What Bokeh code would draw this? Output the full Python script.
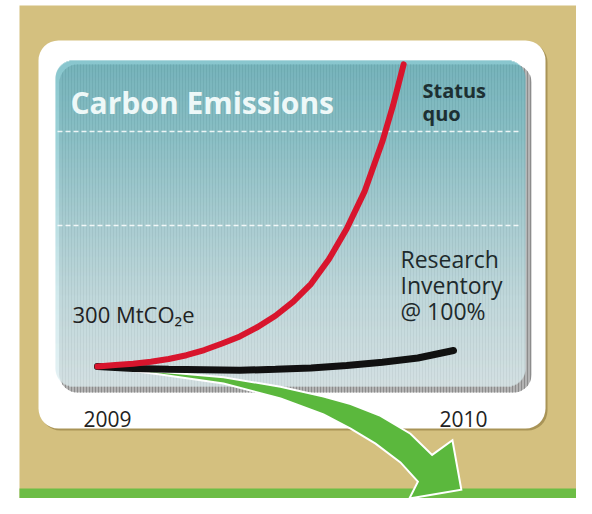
import numpy as np
from bokeh.plotting import figure
from bokeh.models import Range1d, BoxAnnotation, Label
from bokeh.core.properties import value
from bokeh.embed import file_html
from bokeh.resources import INLINE

# ---------------- data ----------------
status_years = [2009.0, 2009.05, 2009.1, 2009.15, 2009.2, 2009.25, 2009.3, 2009.35, 2009.4,
                2009.45, 2009.5, 2009.55, 2009.6, 2009.65, 2009.7, 2009.75, 2009.8, 2009.83, 2009.86]
status_quo = [300, 303, 306, 310, 316, 324, 335, 349, 364,
              384, 408, 438, 476, 528, 593, 672, 778, 855, 943]

research_years = [2009.0, 2009.1, 2009.2, 2009.3, 2009.4, 2009.5, 2009.6, 2009.7, 2009.8, 2009.9, 2010.0]
research_inventory = [300, 296, 294, 293, 292, 294, 297, 302, 309, 318, 334]

# reduction arrow outline (years, MtCO2e)
arrow_upper_years = [2009.0, 2009.177, 2009.354, 2009.514, 2009.635, 2009.711, 2009.795, 2009.879, 2009.94]
arrow_upper_mt = [300, 289, 277, 257, 236, 220, 195, 157, 112]
arrow_head_years = [2009.997, 2010.022, 2009.876]
arrow_head_mt = [143, 38, 19]
arrow_lower_years = [2009.900, 2009.851, 2009.781, 2009.711, 2009.635, 2009.514, 2009.354, 2009.177, 2009.0]
arrow_lower_mt = [55, 96, 136, 168, 198, 232, 264, 283, 300]

tick_years = [2009, 2010]
tick_labels = ["2009", "2010"]
grid_values = [600, 800]

W, H = 576, 498
p = figure(width=W, height=H, output_backend="svg", toolbar_location=None,
           x_range=Range1d(0, W), y_range=Range1d(H, 0),
           x_axis_type=None, y_axis_type=None, min_border=0,
           background_fill_color="white", border_fill_color="white")
p.outline_line_color = None
p.grid.visible = False
p.extra_x_ranges = {"yr": Range1d(2008.72753, 2010.34551)}
p.extra_y_ranges = {"mt": Range1d(19.15, 1078.72)}

def box(l, r, t, b, color, radius=0, **kw):
    ba = BoxAnnotation(left=l, right=r, top=t, bottom=b, fill_color=color, fill_alpha=1,
                       line_color=None, level="underlay", border_radius=radius, **kw)
    p.add_layout(ba)

# tan background & green strip
box(19, 576, 5, 498, "#d4c07f")
box(19, 576, 488, 498, "#6cbd45")
# white card with shadow
box(40, 547, 42, 430, "#a99457", 20)
box(38, 545, 40, 428, "#ffffff", 20)
# panel shadow
box(59, 531, 64, 392, "#b4b4b4", 18, hatch_pattern="vertical_line",
    hatch_color="#8c8c8c", hatch_scale=3, hatch_weight=1)

# gradient panel
pl, pr, pt, pb, r = 55, 525, 60, 386, 18
stops_y = np.array([60, 130, 226, 300, 386])
stops_c = np.array([[98, 179, 189], [122, 193, 201], [166, 213, 219], [197, 228, 232], [221, 238, 241]])
ys = np.arange(pt, pb, 1.0)
lefts, rights, cols = [], [], []
for y in ys:
    ym = y + 0.5
    if ym < pt + r:
        dy = pt + r - ym
    elif ym > pb - r:
        dy = ym - (pb - r)
    else:
        dy = 0
    inset = r - np.sqrt(max(r * r - dy * dy, 0))
    lefts.append(pl + inset)
    rights.append(pr - inset)
    c = [int(np.interp(ym, stops_y, stops_c[:, k])) for k in range(3)]
    cols.append("#%02x%02x%02x" % tuple(c))
p.quad(left=lefts, right=rights, top=list(ys), bottom=list(ys + 1.05), fill_color=cols, line_color=None)

# dashed guide lines
p.segment(x0=[57] * 2, x1=[520] * 2, y0=grid_values, y1=grid_values, y_range_name="mt",
          line_color="white", line_dash="5 3", line_width=1.5, line_alpha=0.85)

# reduction arrow
ax = arrow_upper_years + arrow_head_years + arrow_lower_years
ay = arrow_upper_mt + arrow_head_mt + arrow_lower_mt
p.patch(ax, ay, x_range_name="yr", y_range_name="mt", fill_color="#5bb83d",
        line_color="white", line_width=2, line_join="miter")

# series
p.line(research_years, research_inventory, x_range_name="yr", y_range_name="mt",
       line_color="#111111", line_width=7, line_cap="round")
p.line(status_years, status_quo, x_range_name="yr", y_range_name="mt",
       line_color="#d8152d", line_width=6, line_cap="round", line_join="round")

# year tick labels
p.text(x=tick_years, y=[418, 418], text=tick_labels, x_range_name="yr", x_offset=10,
       text_align="center", text_baseline="alphabetic", text_font=value("Open Sans"),
       text_font_size="21px", text_color="#222222")

def label(x, y, t, size, color, style="normal"):
    p.add_layout(Label(x=x, y=y, text=t, text_font="Open Sans", text_font_size=size,
                       text_color=color, text_font_style=style, text_baseline="alphabetic"))

label(70, 102, "Carbon Emissions", "30px", "#eef8f8", "bold")
label(422, 90, "Status", "20px", "#1d3033", "bold")
label(422, 113, "quo", "20px", "#1d3033", "bold")
label(400, 258, "Research", "23px", "#1e2a2c")
label(400, 284, "Inventory", "23px", "#1e2a2c")
label(400, 310, "@ 100%", "23px", "#1e2a2c")
label(72, 313, "300 MtCO₂e", "22px", "#222222")

open("out.html", "w").write(file_html(p, INLINE))
